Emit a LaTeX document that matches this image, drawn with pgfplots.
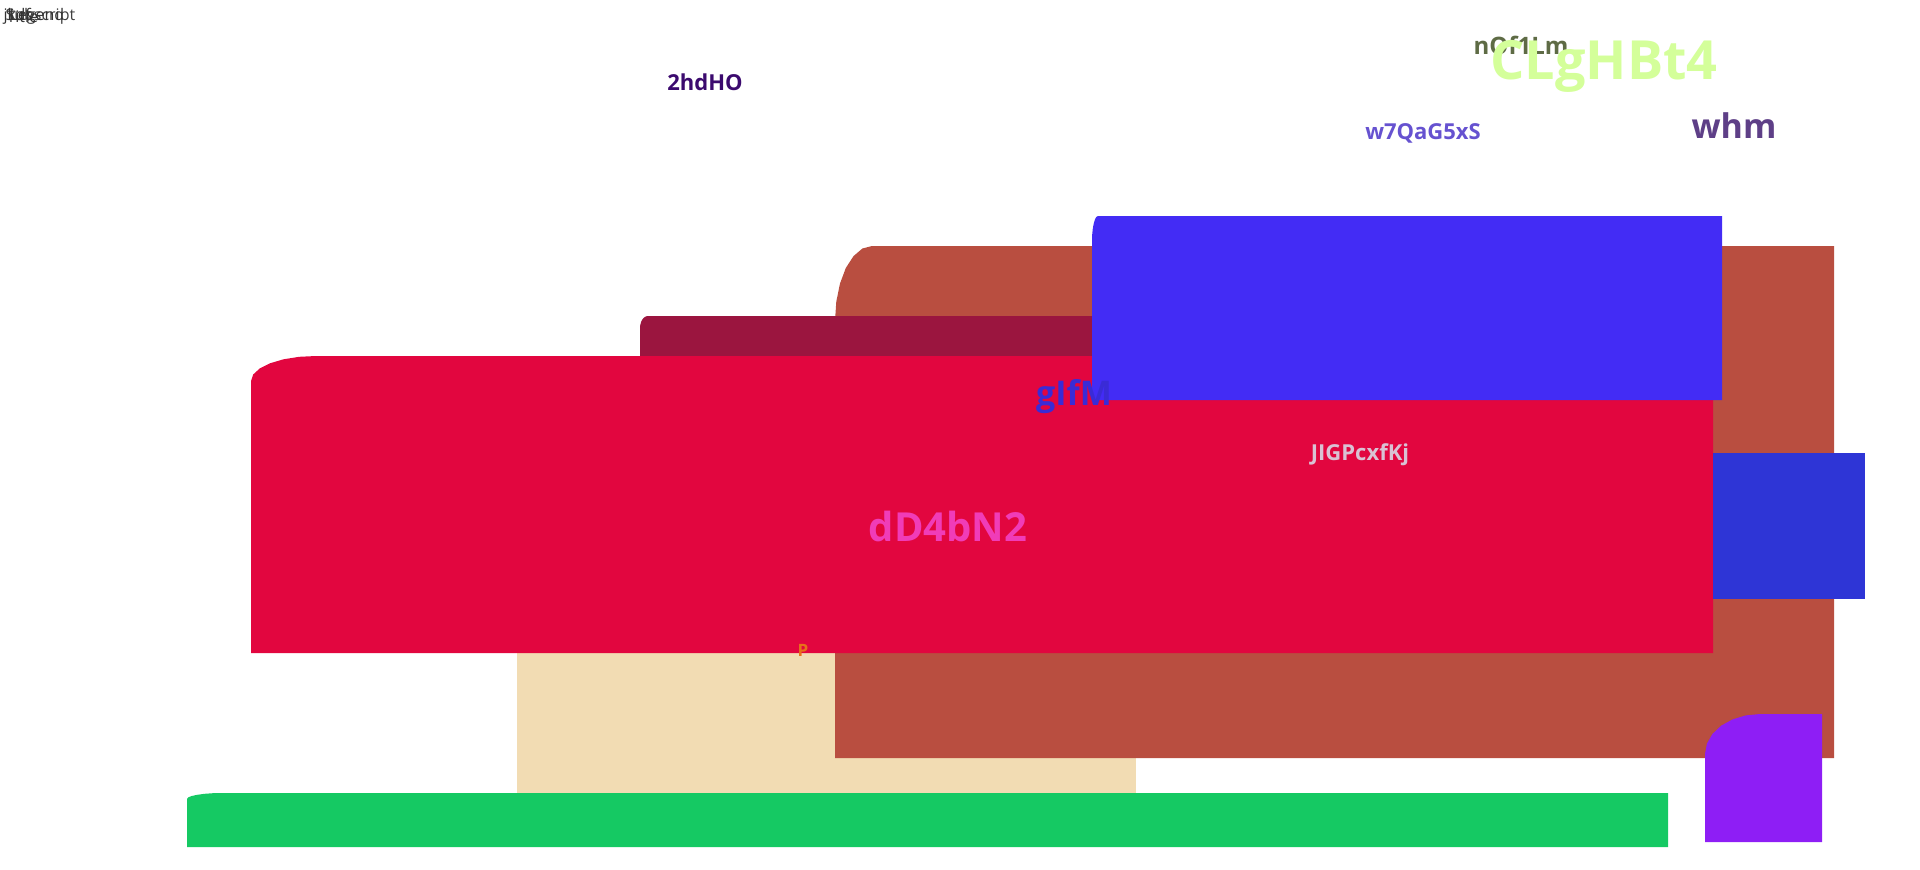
\documentclass[border=0pt]{standalone}
\usepackage{pgfplots}
\pgfplotsset{compat=1.18}
\usepackage{fontspec}
\setmainfont{Open Sans}
\definecolor{cgreen}{HTML}{15C963}
\definecolor{cwheat}{HTML}{F2DCB3}
\definecolor{cbrown}{HTML}{B94E40}
\definecolor{ccrim}{HTML}{9B153F}
\definecolor{cred}{HTML}{E2063F}
\definecolor{cblue}{HTML}{432CF5}
\definecolor{cblueb}{HTML}{2E35D6}
\definecolor{cpurp}{HTML}{8E1EF5}
\newcommand{\tx}[4]{\node[text=#3,font=\bfseries\fontsize{#4}{#4}\selectfont] at (axis cs:#1,#2) {#1};}
\begin{document}
\begin{tikzpicture}
\begin{axis}[width=1920pt,height=870pt,scale only axis,xmin=0,xmax=1920,ymin=0,ymax=870,y dir=reverse,hide axis]
\addplot[draw=none] coordinates {(0,0)(1920,870)};
% green
\addplot[fill=cgreen,draw=none] coordinates {(187,847)(187,799)(188.2,797.4)(191.7,796)(197.3,794.8)(204.5,793.8)(212.9,793.2)(222,793)(1668,793)(1668,847)};
% wheat
\addplot[fill=cwheat,draw=none] coordinates {(517,793)(517,612)(1136,612)(1136,793)};
% brown
\addplot[fill=cbrown,draw=none] coordinates {(835,758)(835,321)(836.3,301.6)(840,283.5)(845.8,268)(853.5,256.1)(862.4,248.5)(872,246)(1834,246)(1834,758)};
% crimson
\addplot[fill=ccrim,draw=none] coordinates {(640,360)(640,328)(640.3,324.9)(641.1,322)(642.3,319.5)(644,317.6)(645.9,316.4)(648,316)(1100,316)(1100,360)};
% red
\addplot[fill=cred,draw=none] coordinates {(251,653)(251,381)(253.2,374.5)(259.7,368.5)(270,363.3)(283.5,359.3)(299.2,356.8)(316,356)(1713,356)(1713,653)};
% blue
\addplot[fill=cblue,draw=none] coordinates {(1092,400)(1092,241)(1092.2,234.5)(1092.8,228.5)(1093.8,223.3)(1095,219.3)(1096.4,216.8)(1098,216)(1722,216)(1722,400)};
% blue2
\addplot[fill=cblueb,draw=none] coordinates {(1713,599)(1713,453)(1865,453)(1865,599)};
% purple
\addplot[fill=cpurp,draw=none] coordinates {(1705,842)(1705,754)(1706.9,743.6)(1712.4,734)(1721.1,725.7)(1732.5,719.4)(1745.8,715.4)(1760,714)(1822,714)(1822,842)};
% texts
\node[text=black!75,anchor=west,font=\fontsize{16}{16}\selectfont] at (axis cs:2,16) {Subscript};
\node[text=black!80,anchor=west,font=\fontsize{16}{16}\selectfont] at (axis cs:0,16) {jkdf};
\node[text=black!80,anchor=west,font=\fontsize{16}{16}\selectfont] at (axis cs:3,16) {Title};
\node[text=black!80,anchor=west,font=\fontsize{16}{16}\selectfont] at (axis cs:6,16) {Legend};
\node[text={rgb,255:red,59;green,10;blue,110},font=\bfseries\fontsize{22}{22}\selectfont] at (axis cs:705,82) {2hdHO};
\node[text={rgb,255:red,94;green,107;blue,69},font=\bfseries\fontsize{24}{24}\selectfont] at (axis cs:1521,45) {nOf1Lm};
\node[text={rgb,255:red,212;green,255;blue,154},font=\bfseries\fontsize{54}{54}\selectfont] at (axis cs:1604,66) {CLgHBt4};
\node[text={rgb,255:red,102;green,82;blue,208},font=\bfseries\fontsize{22}{22}\selectfont] at (axis cs:1423,133) {w7QaG5xS};
\node[text={rgb,255:red,94;green,63;blue,135},font=\bfseries\fontsize{34}{34}\selectfont] at (axis cs:1734,126) {whm};
\node[text={rgb,255:red,58;green,43;blue,214},font=\bfseries\fontsize{34}{34}\selectfont] at (axis cs:1074,397) {gIfM};
\node[text={rgb,255:red,217;green,194;blue,212},font=\bfseries\fontsize{22}{22}\selectfont] at (axis cs:1360,455) {JIGPcxfKj};
\node[text={rgb,255:red,240;green,60;blue,184},font=\bfseries\fontsize{40}{40}\selectfont] at (axis cs:948,526) {dD4bN2};
\node[text={rgb,255:red,232;green,112;blue,26},font=\bfseries\fontsize{17}{17}\selectfont] at (axis cs:803,650) {P};
\end{axis}
\end{tikzpicture}
\end{document}
